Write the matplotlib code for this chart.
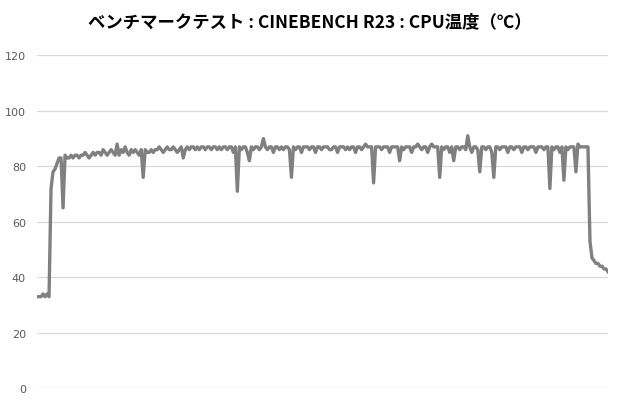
import matplotlib
matplotlib.use("Agg")
import matplotlib.pyplot as plt

title = "ベンチマークテスト : CINEBENCH R23 : CPU温度（℃）"
y_ticks = [0, 20, 40, 60, 80, 100, 120]

cpu_temp = [
    33, 33, 33, 34, 33, 34, 33, 72, 78, 79, 81, 83, 83, 65,
    84, 83, 83, 84, 83, 84, 84, 83, 84, 84, 85, 84, 83, 84, 85, 84, 85, 85, 84, 86,
    85, 84, 85, 86, 85, 84, 88,
    84, 86, 85, 87, 85, 84, 86, 85, 86, 85, 84, 86, 76,
    86, 85, 85, 86, 85, 86, 86, 87, 86, 85, 86, 87, 86, 86, 87, 86, 85, 86, 87, 83,
    86, 87, 86, 87, 87, 86, 87, 86, 87, 87, 86, 87, 87, 86, 87, 87, 86, 87, 86, 87,
    87, 86, 87, 87, 85, 87, 71,
    87, 86, 87, 87, 85, 82,
    87, 86, 87, 87, 86, 87, 90,
    87, 86, 87, 87, 85, 87, 87, 86, 87, 86, 87, 87, 86, 76,
    87, 86, 87, 87, 85, 87, 87, 87, 86, 87, 87, 85, 87, 87, 86, 87, 87, 87, 86, 86,
    87, 87, 85, 87, 87, 87, 86, 87, 86, 87, 87, 85, 87, 87, 86, 87, 88,
    87, 87, 87, 74,
    87, 87, 87, 86, 87, 87, 87, 85, 87, 87, 87, 87, 82,
    87, 86, 87, 87, 87, 85, 87, 87, 88, 87, 86, 87, 87, 85, 87, 88, 87, 87, 87, 76,
    87, 86, 87, 87, 85, 87, 82,
    87, 87, 86, 87, 87, 86, 91,
    87, 85, 87, 87, 86, 78,
    87, 87, 86, 87, 87, 85, 76,
    87, 87, 86, 87, 87, 87, 85, 87, 87, 86, 87, 87, 87, 85, 87, 87, 86, 87, 87, 87,
    85, 87, 87, 87, 86, 87, 87, 72,
    87, 86, 87, 87, 85, 87, 75,
    87, 86, 87, 87, 87, 78, 88,
    87, 87, 87, 87, 87,
    53, 47, 46, 45, 45, 44, 44, 43, 43, 42,
]

W, H = 620, 410
fig = plt.figure(figsize=(W / 100, H / 100), dpi=100)
x0, x1 = 37, 608
ytop, ybot = 56.3, 389.3
ax = fig.add_axes([x0 / W, 1 - ybot / H, (x1 - x0) / W, (ybot - ytop) / H])

xs = list(range(len(cpu_temp)))
ax.plot(xs, cpu_temp, color="#808080", lw=2.4, solid_joinstyle="round", zorder=3)

ax.set_xlim(0, len(cpu_temp) - 1)
ax.set_ylim(0, 120)
ax.set_yticks(y_ticks)
ax.set_yticklabels([str(t) for t in y_ticks])
ax.set_xticks([])
for s in ax.spines.values():
    s.set_visible(False)
ax.grid(axis="y", color="#d9d9d9", lw=0.9)
ax.set_axisbelow(True)
ax.tick_params(axis="y", length=0, pad=8, labelsize=8, labelcolor="#595959")
for lbl in ax.get_yticklabels():
    lbl.set_family(["DejaVu Sans"])

fig.text(310 / W, 1 - 22 / H, title, ha="center", va="center",
         fontsize=12.5, fontweight="bold", color="#000000",
         family=["Noto Sans CJK JP", "DejaVu Sans"])

fig.savefig("out.png", dpi=100, facecolor="white")
